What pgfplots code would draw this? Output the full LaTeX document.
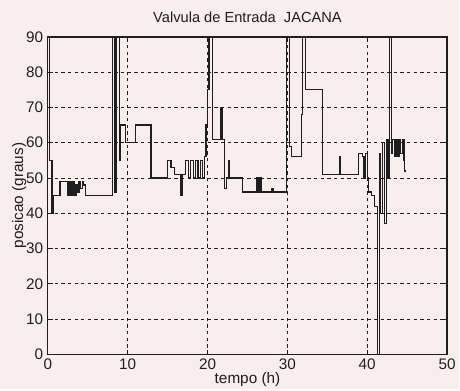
\documentclass[border=0pt]{standalone}
\usepackage{pgfplots}
\pgfplotsset{compat=1.18}
\usepackage{fontspec}
\setmainfont{Liberation Sans}
\definecolor{bgpaper}{HTML}{F7EEED}
\definecolor{ink}{HTML}{1E1E1E}
\begin{document}
\begin{tikzpicture}
\fill[bgpaper] (-36pt,-26.25pt) rectangle (309pt,266.25pt);
\begin{axis}[
  at={(0,0)}, anchor=south west,
  scale only axis, width=300pt, height=238.5pt,
  xmin=0, xmax=50, ymin=0, ymax=90,
  xtick={0,10,...,50}, ytick={0,10,...,90},
  tick align=inside, major tick length=3.5pt,
  axis line style={line width=0.9pt, ink},
  every tick/.style={ink, line width=0.6pt},
  grid=major,
  major grid style={ink, line width=0.6pt, dash pattern=on 2.5pt off 2.5pt},
  /pgf/number format/assume math mode=true,
  ticklabel style={font=\fontsize{11.5}{13}\selectfont, text=ink},
  title={Valvula de Entrada\ \ JACANA},
  title style={font=\fontsize{11}{13}\selectfont, text=ink, yshift=1pt},
  xlabel={tempo (h)}, ylabel={posicao (graus)},
  label style={font=\fontsize{11.5}{13}\selectfont, text=ink},
  xlabel style={yshift=5pt},
  ylabel style={yshift=-7pt},
  clip=true,
]
\addplot[const plot, ink, line width=1.0pt] coordinates {
(0,90) (0.2,55) (0.5,40) (0.7,45) (1.5,49) (2.5,45) (2.75,49) (3.0,45) (3.2,49)
(3.35,45) (3.5,48) (3.7,46) (3.9,49) (4.1,47) (4.3,49) (4.5,48) (4.7,45)
(8.1,90) (8.4,46) (8.6,90) (9.0,55) (9.1,65) (9.7,60) (11.0,65) (12.9,50)
(15.0,55) (15.4,53) (15.9,51) (16.6,45) (16.8,51) (17.2,55) (17.6,50) (17.9,55)
(18.2,50) (18.5,55) (18.8,50) (19.1,55) (19.4,50) (19.6,56) (19.8,65) (20.0,75)
(20.2,90) (20.6,61) (21.6,70) (21.8,61) (22.1,47) (22.4,50) (22.6,55) (22.75,50)
(24.4,46) (26.1,50) (26.3,46) (26.5,50) (26.7,46) (28.0,47) (28.2,46)
(29.9,90) (30.3,59) (30.5,56) (31.8,68) (31.9,90) (32.3,75) (34.4,51)
(36.5,56) (36.6,51) (38.9,57) (39.4,56) (39.6,50) (39.8,57) (40.0,50) (40.2,46)
(40.5,45) (40.9,42) (41.3,0) (41.5,57) (41.7,40) (41.9,60) (42.2,37) (42.4,61)
(42.6,50) (42.8,90) (43.0,57) (43.2,61) (43.4,56) (43.6,61) (43.8,56) (44.0,61)
(44.2,57) (44.4,61) (44.6,55) (44.7,52) (44.8,52)
};
\end{axis}
\end{tikzpicture}
\end{document}
